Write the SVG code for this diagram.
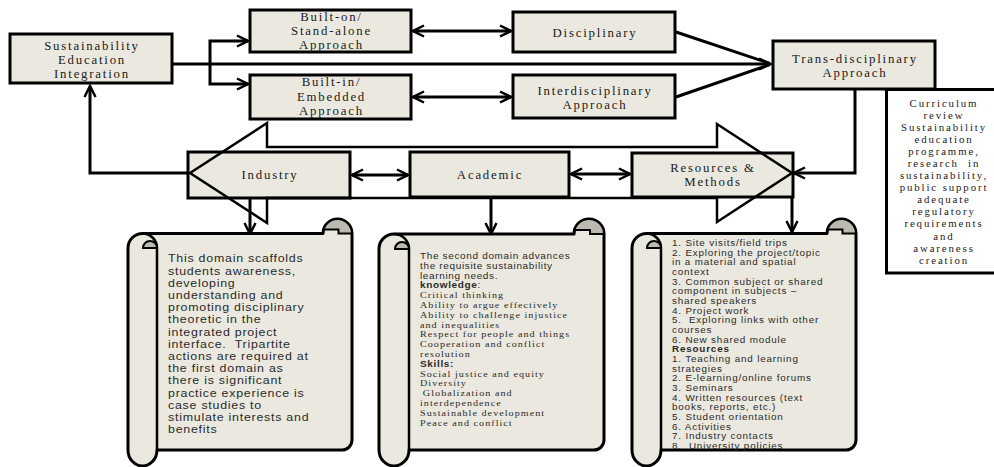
<svg xmlns="http://www.w3.org/2000/svg" width="994" height="467" viewBox="0 0 994 467">
<style>
.box{fill:#EBE9DF;stroke:#000;stroke-width:3}
.lbl{font-family:"Liberation Serif","Times New Roman",serif;font-size:12.8px;letter-spacing:1.8px;fill:#1a1a1a;text-anchor:middle}
.cur{font-family:"Liberation Serif","Times New Roman",serif;font-size:10.8px;letter-spacing:1.9px;fill:#1a1a1a;text-anchor:middle}
.con{fill:none;stroke:#000;stroke-width:3}
.scroll{fill:#EBE9DF;stroke:#000;stroke-width:3;stroke-linejoin:round}
.sline{fill:none;stroke:#000;stroke-width:2.5}
.gray{fill:#BCBAB0;stroke:#000;stroke-width:2}
.s1{font-family:"Liberation Sans",Arial,sans-serif;font-size:10.8px;letter-spacing:0.65px;fill:#2a2a2a}
.s2{font-family:"Liberation Sans",Arial,sans-serif;font-size:8.7px;letter-spacing:0.57px;fill:#2a2a2a}
.s2s{font-family:"Liberation Serif","Times New Roman",serif;font-size:8.8px;letter-spacing:0.9px;fill:#2a2a2a}
.s3{font-family:"Liberation Sans",Arial,sans-serif;font-size:8.6px;letter-spacing:0.7px;fill:#2a2a2a}
.b{font-weight:bold}
</style>
<defs>
<marker id="arr" markerUnits="userSpaceOnUse" markerWidth="14" markerHeight="14" viewBox="0 0 14 14" refX="12" refY="7" orient="auto-start-reverse">
<path d="M1,1.5 L12,7 L1,12.5" fill="none" stroke="#000" stroke-width="2.5"/>
</marker>
</defs>

<g id="connectors">
<path class="con" d="M172,64 L770,64" marker-end="url(#arr)"/>
<path class="con" d="M248,41 L210,41 L210,84 L248,84" marker-start="url(#arr)" marker-end="url(#arr)"/>
<path class="con" d="M413,31 L511,31" marker-start="url(#arr)" marker-end="url(#arr)"/>
<path class="con" d="M413,97 L511,97" marker-start="url(#arr)" marker-end="url(#arr)"/>
<path class="con" d="M676,32 L770,63.5"/>
<path class="con" d="M676,97 L770,64.5"/>
<path class="con" d="M190,173 L90,173 L90,86" marker-end="url(#arr)"/>
<path class="con" d="M855,90 L855,173 L794,173" marker-end="url(#arr)"/>
<path class="con" d="M352,175 L408,175" marker-start="url(#arr)" marker-end="url(#arr)"/>
<path class="con" d="M571,174 L630,174" marker-start="url(#arr)" marker-end="url(#arr)"/>
<path class="con" d="M250,199 L250,234" marker-end="url(#arr)"/>
<path class="con" d="M491,198 L491,234" marker-end="url(#arr)"/>
<path class="con" d="M792,198 L792,232" marker-end="url(#arr)"/>
</g>

<g id="sei">
<rect class="box" x="10" y="34" width="162" height="49"/>
<text class="lbl" x="92" y="49.5">Sustainability</text>
<text class="lbl" x="92" y="63.5">Education</text>
<text class="lbl" x="92" y="77.5">Integration</text>
</g>
<g id="built-on">
<rect class="box" x="250" y="10" width="161" height="42"/>
<text class="lbl" x="331.5" y="20.5">Built-on/</text>
<text class="lbl" x="331.5" y="34.5">Stand-alone</text>
<text class="lbl" x="331.5" y="48.5">Approach</text>
</g>
<g id="built-in">
<rect class="box" x="250" y="75" width="161" height="44"/>
<text class="lbl" x="331.5" y="86">Built-in/</text>
<text class="lbl" x="331.5" y="100.5">Embedded</text>
<text class="lbl" x="331.5" y="115">Approach</text>
</g>
<g id="disciplinary">
<rect class="box" x="513" y="12" width="162" height="40"/>
<text class="lbl" x="595" y="37">Disciplinary</text>
</g>
<g id="interdisciplinary">
<rect class="box" x="513" y="75" width="162" height="43"/>
<text class="lbl" x="595" y="94.5">Interdisciplinary</text>
<text class="lbl" x="595" y="108.5">Approach</text>
</g>
<g id="trans">
<rect class="box" x="773" y="41" width="162" height="48"/>
<text class="lbl" x="855" y="63">Trans-disciplinary</text>
<text class="lbl" x="855" y="77">Approach</text>
</g>
<g id="curriculum">
<rect x="886.5" y="89.5" width="112" height="183.5" fill="#fff" stroke="#000" stroke-width="3"/>
<text class="cur" x="944" y="107">Curriculum</text>
<text class="cur" x="944" y="119">review</text>
<text class="cur" x="944" y="131">Sustainability</text>
<text class="cur" x="944" y="143">education</text>
<text class="cur" x="944" y="155">programme,</text>
<text class="cur" x="944" y="167">research&#160; in</text>
<text class="cur" x="944" y="179">sustainability,</text>
<text class="cur" x="944" y="191">public support</text>
<text class="cur" x="944" y="203">adequate</text>
<text class="cur" x="944" y="215">regulatory</text>
<text class="cur" x="944" y="227">requirements</text>
<text class="cur" x="944" y="239.5">and</text>
<text class="cur" x="944" y="251.5">awareness</text>
<text class="cur" x="944" y="264">creation</text>
</g>

<g id="industry">
<rect class="box" x="188" y="152" width="162" height="46"/>
<text class="lbl" x="270" y="179">Industry</text>
</g>
<g id="academic">
<rect class="box" x="410" y="152" width="159" height="45"/>
<text class="lbl" x="490" y="179">Academic</text>
</g>
<g id="resources">
<rect class="box" x="632" y="153" width="161" height="44"/>
<text class="lbl" x="713" y="172">Resources &amp;</text>
<text class="lbl" x="713" y="186">Methods</text>
</g>

<g id="big-arrow">
<path d="M190,173 L267,123 L267,147 L717,147 L717,124 L792,173 L717,222 L717,198 L267,198 L267,223 Z" fill="none" stroke="#000" stroke-width="2.5" stroke-linejoin="miter"/>
</g>

<g id="scroll-industry">
<path class="scroll" d="M142.5,233.5 L323,233.5 A14.5,14.5 0 0 1 352,233.5 L352,440 A10,10 0 0 1 342,450 L157,450 A14.5,16 0 0 1 128,450 L128,248 A14.5,14.5 0 0 1 142.5,233.5 Z"/>
<path class="sline" d="M157,450 L157,248 M142.5,233.5 A14.5,14.5 0 0 1 157,248"/>
<path class="gray" d="M143,248 A7,7 0 0 1 157,248 Z"/>
<path class="gray" d="M323,233.5 A14.5,14.5 0 0 1 352,233.5 L338.5,233.5 L338.5,229.5 L323.6,229.5 Z"/>
<g transform="translate(168 0) scale(1.15 1)">
<text class="s1" x="0" y="262.5">This domain scaffolds</text>
<text class="s1" x="0" y="274.7">students awareness,</text>
<text class="s1" x="0" y="286.9">developing</text>
<text class="s1" x="0" y="299.1">understanding and</text>
<text class="s1" x="0" y="311.3">promoting disciplinary</text>
<text class="s1" x="0" y="323.5">theoretic in the</text>
<text class="s1" x="0" y="335.7">integrated project</text>
<text class="s1" x="0" y="347.9">interface.&#160; Tripartite</text>
<text class="s1" x="0" y="360.1">actions are required at</text>
<text class="s1" x="0" y="372.3">the first domain as</text>
<text class="s1" x="0" y="384.5">there is significant</text>
<text class="s1" x="0" y="396.7">practice experience is</text>
<text class="s1" x="0" y="408.9">case studies to</text>
<text class="s1" x="0" y="421.1">stimulate interests and</text>
<text class="s1" x="0" y="433.3">benefits</text>
</g>
</g>

<g id="scroll-academic">
<path class="scroll" d="M394,234 L574,234 A15,15 0 0 1 604,234 L604,440 A10,10 0 0 1 594,450 L409,450 A15,16 0 0 1 379,450 L379,249 A15,15 0 0 1 394,234 Z"/>
<path class="sline" d="M409,450 L409,249 M394,234 A15,15 0 0 1 409,249"/>
<path class="gray" d="M395,249 A7,7 0 0 1 409,249 Z"/>
<path class="gray" d="M574,234 A15,15 0 0 1 604,234 L590,234 L590,230 L574.6,230 Z"/>
<g transform="translate(420 0) scale(1.15 1)">
<text class="s2" x="0" y="259">The second domain advances</text>
<text class="s2" x="0" y="268.8">the requisite sustainability</text>
<text class="s2" x="0" y="278.6">learning needs.</text>
<text class="s2" x="0" y="288.4"><tspan class="b">knowledge</tspan>:</text>
<text class="s2s" x="0" y="298.2">Critical thinking</text>
<text class="s2s" x="0" y="308">Ability to argue effectively</text>
<text class="s2s" x="0" y="317.8">Ability to challenge injustice</text>
<text class="s2s" x="0" y="327.6">and inequalities</text>
<text class="s2s" x="0" y="337.4">Respect for people and things</text>
<text class="s2s" x="0" y="347.2">Cooperation and conflict</text>
<text class="s2s" x="0" y="357">resolution</text>
<text class="s2 b" x="0" y="366.8">Skills:</text>
<text class="s2s" x="0" y="376.6">Social justice and equity</text>
<text class="s2s" x="0" y="386.4">Diversity</text>
<text class="s2s" x="2.5" y="396.2">Globalization and</text>
<text class="s2s" x="0" y="406">interdependence</text>
<text class="s2s" x="0" y="415.8">Sustainable development</text>
<text class="s2s" x="0" y="425.6">Peace and conflict</text>
</g>
</g>

<g id="scroll-resources">
<path class="scroll" d="M646.5,233.5 L827,233.5 A14.5,14.5 0 0 1 856,233.5 L856,440 A10,10 0 0 1 846,450 L661,450 A14.5,16 0 0 1 632,450 L632,248 A14.5,14.5 0 0 1 646.5,233.5 Z"/>
<path class="sline" d="M661,450 L661,248 M646.5,233.5 A14.5,14.5 0 0 1 661,248"/>
<path class="gray" d="M647,248 A7,7 0 0 1 661,248 Z"/>
<path class="gray" d="M827,233.5 A14.5,14.5 0 0 1 856,233.5 L842.5,233.5 L842.5,229.5 L827.6,229.5 Z"/>
<g transform="translate(672 0) scale(1.15 1)">
<text class="s3" x="0" y="246">1. Site visits/field trips</text>
<text class="s3" x="0" y="255.7">2. Exploring the project/topic</text>
<text class="s3" x="0" y="265.3">in a material and spatial</text>
<text class="s3" x="0" y="275">context</text>
<text class="s3" x="0" y="284.7">3. Common subject or shared</text>
<text class="s3" x="0" y="294.4">component in subjects –</text>
<text class="s3" x="0" y="304">shared speakers</text>
<text class="s3" x="0" y="313.7">4. Project work</text>
<text class="s3" x="0" y="323.4">5.&#160; Exploring links with other</text>
<text class="s3" x="0" y="333">courses</text>
<text class="s3" x="0" y="342.7">6. New shared module</text>
<text class="s3 b" x="0" y="352.4">Resources</text>
<text class="s3" x="0" y="362">1. Teaching and learning</text>
<text class="s3" x="0" y="371.7">strategies</text>
<text class="s3" x="0" y="381.4">2. E-learning/online forums</text>
<text class="s3" x="0" y="391.1">3. Seminars</text>
<text class="s3" x="0" y="400.7">4. Written resources (text</text>
<text class="s3" x="0" y="410.4">books, reports, etc.)</text>
<text class="s3" x="0" y="420.1">5. Student orientation</text>
<text class="s3" x="0" y="429.7">6. Activities</text>
<text class="s3" x="0" y="439.4">7. Industry contacts</text>
<text class="s3" x="0" y="449">8.&#160; University policies</text>
</g>
</g>
</svg>
